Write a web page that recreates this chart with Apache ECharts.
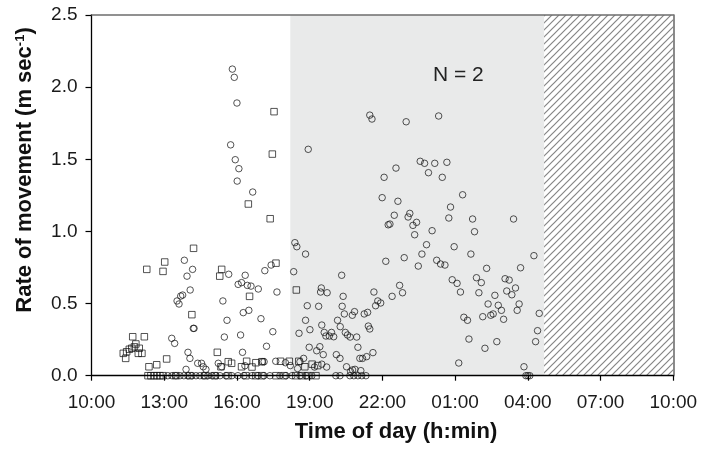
<!DOCTYPE html>
<html>
<head>
<meta charset="utf-8">
<script src="https://cdn.jsdelivr.net/npm/echarts@6/dist/echarts.min.js"></script>
<style>
html,body{margin:0;padding:0;background:#fff;}
#chart{width:701px;height:449px;}
</style>
</head>
<body>
<div id="chart"></div>
<script>
// x = hours elapsed since 10:00, y = rate of movement (m/s)
const timeTickLabels = ['10:00','13:00','16:00','19:00','22:00','01:00','04:00','07:00','10:00'];
const nightStart = 8.2;     // start of grey (dark) period
const hatchStart = 18.67;   // start of hatched period
const hatchEnd = 24;

const squares = [
  [1.31,0.155],[1.41,0.12],[1.45,0.166],[1.56,0.183],[1.66,0.19],[1.70,0.27],[1.77,0.20],[1.83,0.22],
  [1.93,0.155],[1.97,0.19],[2.08,0.155],[2.18,0.27],[2.28,0.737],[2.37,0.062],[2.69,0.076],[2.95,0.723],
  [3.02,0.788],[3.10,0.116],[4.14,0.423],[4.21,0.883],[5.19,0.162],[5.29,0.69],[5.34,0.062],[5.37,0.737],
  [5.64,0.097],[5.78,0.086],[6.19,0.062],[6.40,0.10],[6.47,1.19],[6.52,0.55],[6.62,0.06],[6.78,0.09],
  [7.03,0.097],[7.37,1.088],[7.46,1.536],[7.53,1.83],[7.61,0.78],[7.80,0.10],[8.16,0.10],[8.45,0.594],
  [8.55,0.10],[8.80,0.062],[9.10,0.08],[9.33,0.07],
  [2.33,0],[2.45,0],[2.58,0],[2.70,0],[2.82,0],[2.95,0],[3.48,0],[4.06,0],[4.68,0],[5.09,0],[5.63,0],
  [6.37,0],[6.78,0],[7.03,0],[7.61,0],[7.94,0],[8.43,0],[8.68,0],[8.93,0],[9.26,0]
];

const circles = [
  [3.31,0.259],[3.43,0.224],[3.53,0.518],[3.61,0.497],[3.68,0.552],[3.76,0.559],[3.83,0.80],[3.90,0.044],
  [3.94,0.69],[3.98,0.162],[4.06,0.12],[4.07,0.594],[4.17,0.737],[4.20,0.328],[4.23,0.328],[4.38,0.086],
  [4.54,0.086],[4.61,0.062],[4.72,0.044],[5.23,0.086],[5.37,0.062],[5.42,0.518],[5.48,0.268],[5.59,0.384],
  [5.66,0.703],[5.74,1.60],[5.81,2.125],[5.89,2.068],[5.93,1.497],[6.00,1.89],[6.01,1.349],[6.05,0.633],
  [6.08,1.435],[6.15,0.282],[6.19,0.645],[6.23,0.162],[6.26,0.437],[6.33,0.069],[6.34,0.696],[6.43,0.626],
  [6.49,0.453],[6.58,0.621],[6.65,1.273],[6.88,0.601],[6.99,0.395],[7.05,0.097],[7.12,0.097],[7.15,0.728],
  [7.22,0.204],[7.41,0.767],[7.48,0.305],[7.60,0.10],[7.65,0.58],[8.00,0.09],[8.20,0.07],[8.34,0.721],
  [8.39,0.922],[8.47,0.894],[8.50,0.05],[8.56,0.294],[8.60,0.097],[8.75,0.12],[8.83,0.843],[8.83,0.384],
  [8.90,0.485],[8.94,1.569],[8.98,0.197],[9.01,0.319],[9.20,0.06],[9.29,0.173],[9.37,0.481],[9.42,0.201],
  [9.45,0.58],[9.48,0.608],[9.50,0.351],[9.50,0.08],[9.56,0.146],[9.60,0.30],[9.67,0.275],[9.70,0.06],
  [9.72,0.575],[9.81,0.275],[9.90,0.30],[9.99,0.27],[10.10,0.146],[10.15,0.384],[10.25,0.12],[10.26,0.34],
  [10.32,0.696],[10.34,0.481],[10.38,0.55],[10.43,0.428],[10.47,0.30],[10.52,0.062],[10.56,0.282],
  [10.67,0.268],[10.69,0.028],[10.76,0.419],[10.77,0.04],[10.85,0.444],[10.87,0.044],[10.94,0.268],
  [10.99,0.197],[11.07,0.12],[11.11,0.035],[11.18,0.12],[11.25,0.428],[11.35,0.132],[11.39,0.439],
  [11.42,0.344],[11.48,0.324],[11.48,1.806],[11.57,1.779],[11.61,0.16],[11.65,0.58],[11.72,0.485],
  [11.81,0.518],[11.93,0.504],[11.99,1.234],[12.07,1.375],[12.14,0.793],[12.24,1.046],[12.31,1.051],
  [12.40,0.55],[12.49,1.112],[12.56,1.439],[12.64,1.209],[12.71,0.626],[12.83,0.575],[12.90,0.818],
  [12.98,1.76],[13.06,1.10],[13.13,1.125],[13.26,1.042],[13.33,0.977],[13.41,1.063],[13.48,0.76],
  [13.56,1.486],[13.63,0.843],[13.74,1.472],[13.82,0.908],[13.90,1.407],[14.05,1.005],[14.16,1.472],
  [14.24,0.80],[14.32,1.80],[14.40,0.774],[14.47,1.375],[14.58,0.767],[14.66,1.479],[14.74,1.093],
  [14.81,1.169],[14.88,0.665],[14.96,0.894],[15.08,0.64],[15.15,0.088],[15.22,0.58],[15.31,1.254],
  [15.36,0.405],[15.51,0.384],[15.57,0.254],[15.65,0.843],[15.72,1.086],[15.80,0.998],[15.88,0.679],
  [15.98,0.575],[16.08,0.645],[16.14,0.409],[16.23,0.19],[16.30,0.744],[16.36,0.497],[16.47,0.419],
  [16.57,0.428],[16.64,0.557],[16.72,0.236],[16.78,0.488],[16.91,0.453],[17.00,0.391],[17.06,0.672],
  [17.13,0.587],[17.23,0.663],[17.34,0.561],[17.41,1.086],[17.49,0.608],[17.56,0.453],[17.64,0.497],
  [17.70,0.748],[17.84,0.062],[18.25,0.832],[18.32,0.236],[18.40,0.312],[18.47,0.432],
  [3.15,0],[3.32,0],[3.48,0],[3.65,0],[3.81,0],[3.98,0],[4.14,0],[4.31,0],[4.47,0],[4.64,0],[4.80,0],
  [4.97,0],[5.13,0],[5.30,0],[5.55,0],[5.79,0],[6.04,0],[6.29,0],[6.62,0],[6.87,0],[7.11,0],[7.36,0],
  [7.77,0],[8.02,0],[8.27,0],[8.60,0],[8.85,0],[9.09,0],[10.08,0],[10.25,0],[10.66,0],[10.82,0],
  [10.99,0],[11.15,0],[11.32,0],[17.92,0],[18.00,0],[18.08,0]
];

// hatch pattern
const pat = document.createElement('canvas');
pat.width = 7; pat.height = 7;
const pc = pat.getContext('2d');
pc.fillStyle = '#ffffff'; pc.fillRect(0,0,7,7);
pc.strokeStyle = '#858585'; pc.lineWidth = 1.2;
pc.beginPath();
pc.moveTo(-1,8); pc.lineTo(8,-1);
pc.moveTo(-1,1); pc.lineTo(1,-1);
pc.moveTo(6,8); pc.lineTo(8,6);
pc.stroke();

const FONT = '"Liberation Sans", Arial, Helvetica, sans-serif';
const chart = echarts.init(document.getElementById('chart'), null, {renderer:'canvas'});

const markerStyle = {color:'rgba(0,0,0,0)', borderColor:'#111', borderWidth:0.9};

chart.setOption({
  animation:false,
  backgroundColor:'#fff',
  grid:{left:91.5, right:27.7, top:15, bottom:73.3, containLabel:false},
  xAxis:[{
    type:'value', min:0, max:24, interval:3, z:10,
    axisLine:{show:true, onZero:false, lineStyle:{color:'#000', width:1.3}},
    axisTick:{show:true, inside:false, length:5, lineStyle:{color:'#000', width:1.2}},
    splitLine:{show:false},
    axisLabel:{margin:18, fontSize:19, color:'#1a1a1a', fontFamily:FONT,
      formatter:(v)=>timeTickLabels[Math.round(v/3)]}
  },{
    type:'value', position:'top', min:0, max:24, z:10,
    axisLine:{show:true, onZero:false, lineStyle:{color:'#6e6e6e', width:1.6}},
    axisTick:{show:false}, axisLabel:{show:false}, splitLine:{show:false}
  }],
  yAxis:[{
    type:'value', min:0, max:2.5, interval:0.5, z:10,
    axisLine:{show:true, onZero:false, lineStyle:{color:'#000', width:1.3}},
    axisTick:{show:true, inside:false, length:6, lineStyle:{color:'#000', width:1.2}},
    splitLine:{show:false},
    axisLabel:{margin:14, fontSize:19, color:'#1a1a1a', fontFamily:FONT,
      formatter:(v)=>v.toFixed(1)}
  },{
    type:'value', position:'right', min:0, max:2.5, z:10,
    axisLine:{show:true, onZero:false, lineStyle:{color:'#6e6e6e', width:1.6}},
    axisTick:{show:false}, axisLabel:{show:false}, splitLine:{show:false}
  }],
  series:[{
    type:'scatter', data:[], z:1, silent:true,
    markArea:{silent:true, data:[
      [{xAxis:nightStart, itemStyle:{color:'#e9eaea'}},{xAxis:hatchStart}],
      [{xAxis:hatchStart, itemStyle:{color:{image:pat, repeat:'repeat'}}},{xAxis:hatchEnd}]
    ]}
  },{
    name:'squares', type:'scatter', data:squares, symbol:'rect', symbolSize:6.5,
    itemStyle:markerStyle, clip:false, z:3, silent:true
  },{
    name:'circles', type:'scatter', data:circles, symbol:'circle', symbolSize:6.5,
    itemStyle:markerStyle, clip:false, z:4, silent:true
  }],
  graphic:[
    {type:'text', left:433, top:65, z:20, style:{text:'N = 2', font:'21px '+FONT, fill:'#222'}},
    {type:'text', x:396, y:432, z:20, style:{text:'Time of day (h:min)', font:'bold 22px '+FONT,
      fill:'#111', textAlign:'center', textVerticalAlign:'middle'}},
    {type:'text', x:25, y:170, rotation:Math.PI/2, z:20, style:{
      text:'Rate of movement (m sec{sup|-1})', font:'bold 22px '+FONT, fill:'#111',
      textAlign:'center', textVerticalAlign:'middle',
      rich:{sup:{font:'bold 13px '+FONT, fill:'#111', verticalAlign:'top', padding:[0,0,8,0]}}}}
  ]
});
</script>
</body>
</html>
